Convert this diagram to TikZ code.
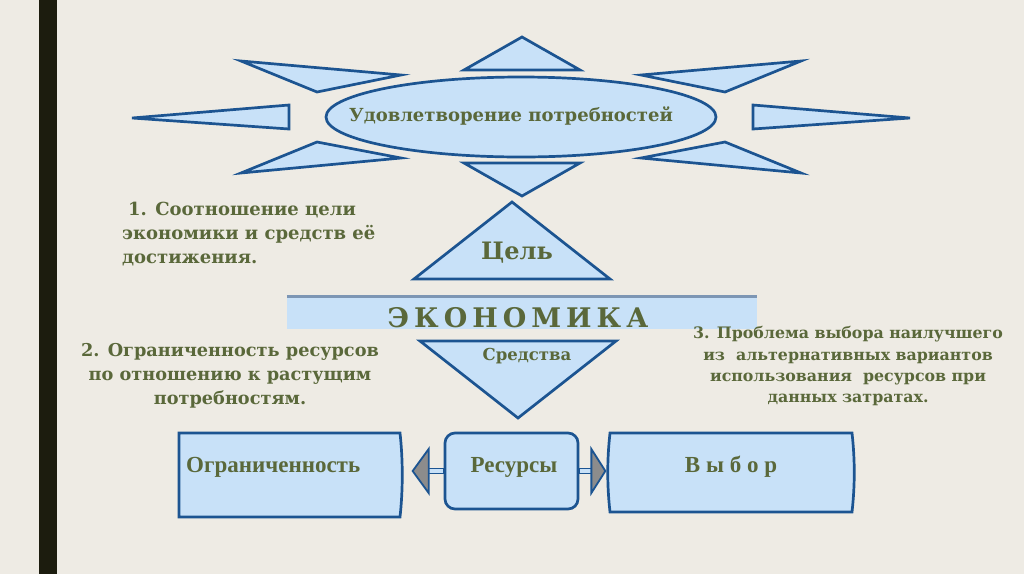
\documentclass[tikz,border=0pt]{standalone}
\usepackage{fontspec}
\setmainfont{DejaVu Serif}
\newfontfamily\boxfont{Liberation Serif}
\usetikzlibrary{shapes.geometric,calc}
\definecolor{bg}{RGB}{238,235,228}
\definecolor{barc}{RGB}{28,28,14}
\definecolor{fillb}{RGB}{200,225,248}
\definecolor{lineb}{RGB}{28,84,145}
\definecolor{olive}{RGB}{90,104,58}
\definecolor{headg}{RGB}{140,140,140}
\definecolor{shadowb}{RGB}{125,150,180}
\begin{document}
\begin{tikzpicture}[x=1pt,y=-1pt,
  shp/.style={draw=lineb,fill=fillb,line width=2.7pt,line join=miter},
  txt/.style={text=olive,inner sep=0pt,font=\bfseries\fontsize{18}{24}\selectfont},
  boxtxt/.style={text=olive,inner sep=0pt,font=\boxfont\bfseries\fontsize{23}{26}\selectfont}]
\fill[bg] (0,0) rectangle (1024,574);
\useasboundingbox (0,0) rectangle (1024,574);
\fill[barc] (39,0) rectangle (57,574);
% star rays
\draw[shp] (522,37) -- (464,70) -- (580,70) -- cycle;
\draw[shp] (522,196) -- (464,163) -- (580,163) -- cycle;
\draw[shp] (241,61) -- (401,75) -- (317,92) -- cycle;
\draw[shp] (241,173) -- (317,142) -- (401,158) -- cycle;
\draw[shp] (801,61) -- (641,75) -- (725,92) -- cycle;
\draw[shp] (801,173) -- (725,142) -- (641,158) -- cycle;
\draw[shp] (132,118) -- (289,105) -- (289,129) -- cycle;
\draw[shp] (910,118) -- (753,105) -- (753,129) -- cycle;
\node[shp,ellipse,minimum width=390pt,minimum height=80pt,inner sep=0pt] (need) at (521,117) {};
\node[txt,font=\bfseries\fontsize{18}{22}\selectfont] (needt) at (511,116) {Удовлетворение потребностей};
% goal triangle
\draw[shp] (512,202) -- (610,279) -- (414,279) -- cycle;
\node[txt,font=\bfseries\fontsize{24}{28}\selectfont] (goal) at (517,253) {Цель};
% banner
\node[fill=fillb,minimum width=470pt,minimum height=34pt,inner sep=0pt] (eco) at (522,312) {};
\draw[shadowb,line width=3pt] (eco.north west) ++(0,1.5) -- ($(eco.north east)+(0,1.5)$);
\node[txt,font=\bfseries\fontsize{27}{30}\selectfont] (ecot) at (518,318) {Э\hspace{5pt}К\hspace{5pt}О\hspace{5pt}Н\hspace{5pt}О\hspace{5pt}М\hspace{5pt}И\hspace{5pt}К\hspace{5pt}А};
% means triangle
\draw[shp] (420,341) -- (616,341) -- (518,418) -- cycle;
\node[txt,font=\bfseries\fontsize{16.5}{20}\selectfont] (means) at (527,356) {Средства};
% paragraphs
\node[txt,anchor=west,align=left] (p1) at (122,234) {\hspace{6pt}1. Соотношение цели\\экономики и средств её\\достижения.};
\node[txt,align=center,font=\bfseries\fontsize{17.7}{24}\selectfont] (p2) at (230,376) {2. Ограниченность ресурсов\\по отношению к растущим\\потребностям.};
\node[txt,align=center,font=\bfseries\fontsize{15.8}{21}\selectfont] (p3) at (848,366) {3. Проблема выбора наилучшего\\из\ \ альтернативных вариантов\\использования\ \ ресурсов при\\данных затратах.};
% bottom boxes
\draw[shp] (179,433) -- (400,433) .. controls (403,460) and (403,490) .. (400,517) -- (179,517) -- cycle;
\node[boxtxt,anchor=west] (lim) at (186,467) {Ограниченность};
\node[shp,rounded corners=10pt,minimum width=133pt,minimum height=76pt,inner sep=0pt] (res) at (511.5,471) {};
\node[boxtxt] (rest) at (514,467) {Ресурсы};
\draw[shp] (610,433) -- (852,433) .. controls (855,460) and (855,485) .. (852,512) -- (610,512) .. controls (607,485) and (607,460) .. (610,433) -- cycle;
\node[boxtxt] (choice) at (731,467) {В ы б о р};
% arrows
\draw[draw=lineb,fill=fillb,line width=1.3pt] ($(res.west)+(0,-2.5)$) rectangle ($(res.west)+(-16,2.5)$);
\draw[draw=lineb,fill=headg,line width=1.8pt] ($(res.west)+(-15,-22)$) -- ($(res.west)+(-31,0)$) -- ($(res.west)+(-15,22)$) -- cycle;
\draw[draw=lineb,fill=fillb,line width=1.3pt] ($(res.east)+(0,-2.5)$) rectangle ($(res.east)+(13,2.5)$);
\draw[draw=lineb,fill=headg,line width=1.8pt] ($(res.east)+(12,-22)$) -- ($(res.east)+(26,0)$) -- ($(res.east)+(12,22)$) -- cycle;
\end{tikzpicture}
\end{document}
